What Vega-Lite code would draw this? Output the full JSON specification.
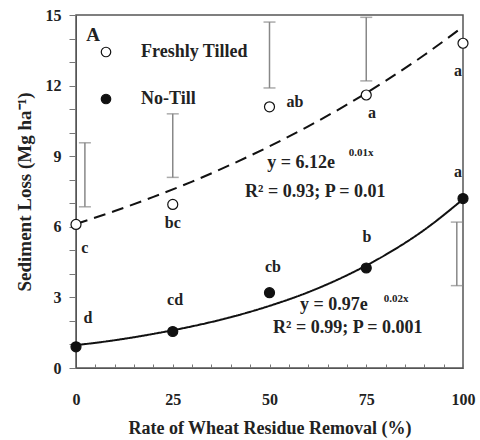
{
  "$schema": "https://vega.github.io/schema/vega-lite/v6.json",
  "width": 387,
  "height": 353,
  "autosize": {"type": "none"},
  "padding": {"left": 76, "top": 15, "right": 17, "bottom": 72},
  "background": "white",
  "config": {
    "font": "Liberation Serif",
    "view": {"stroke": "#555", "strokeWidth": 1.5},
    "axis": {"labelFont": "Liberation Serif", "titleFont": "Liberation Serif", "labelFontWeight": "bold", "titleFontWeight": "bold", "labelColor": "#222", "titleColor": "#222", "domainColor": "#555", "tickColor": "#777", "grid": false, "labelFontSize": 16, "titleFontSize": 18, "labelOverlap": false}
  },
  "datasets": {
    "pts": [
      {"x": 0, "y": 6.1, "s": "Freshly Tilled"},
      {"x": 25, "y": 6.95, "s": "Freshly Tilled"},
      {"x": 50, "y": 11.1, "s": "Freshly Tilled"},
      {"x": 75, "y": 11.6, "s": "Freshly Tilled"},
      {"x": 100, "y": 13.8, "s": "Freshly Tilled"},
      {"x": 0, "y": 0.9, "s": "No-Till"},
      {"x": 25, "y": 1.55, "s": "No-Till"},
      {"x": 50, "y": 3.2, "s": "No-Till"},
      {"x": 75, "y": 4.25, "s": "No-Till"},
      {"x": 100, "y": 7.2, "s": "No-Till"}
    ],
    "fit": [
      {"x": 0, "y": 6.12, "curve": "tilled"},
      {"x": 10, "y": 6.67, "curve": "tilled"},
      {"x": 20, "y": 7.27, "curve": "tilled"},
      {"x": 30, "y": 7.92, "curve": "tilled"},
      {"x": 40, "y": 8.64, "curve": "tilled"},
      {"x": 50, "y": 9.42, "curve": "tilled"},
      {"x": 60, "y": 10.27, "curve": "tilled"},
      {"x": 70, "y": 11.19, "curve": "tilled"},
      {"x": 80, "y": 12.2, "curve": "tilled"},
      {"x": 90, "y": 13.3, "curve": "tilled"},
      {"x": 100, "y": 14.5, "curve": "tilled"},
      {"x": 0, "y": 0.97, "curve": "notill"},
      {"x": 10, "y": 1.18, "curve": "notill"},
      {"x": 20, "y": 1.45, "curve": "notill"},
      {"x": 30, "y": 1.77, "curve": "notill"},
      {"x": 40, "y": 2.16, "curve": "notill"},
      {"x": 50, "y": 2.64, "curve": "notill"},
      {"x": 60, "y": 3.22, "curve": "notill"},
      {"x": 70, "y": 3.94, "curve": "notill"},
      {"x": 80, "y": 4.81, "curve": "notill"},
      {"x": 90, "y": 5.87, "curve": "notill"},
      {"x": 100, "y": 7.17, "curve": "notill"}
    ],
    "err": [
      {"x": 2.3, "lo": 6.85, "hi": 9.57},
      {"x": 25, "lo": 8.1, "hi": 10.8},
      {"x": 50, "lo": 11.9, "hi": 14.7},
      {"x": 75, "lo": 12.2, "hi": 14.9},
      {"x": 98.4, "lo": 3.5, "hi": 6.2}
    ],
    "letters": [
      {"x": 2.3, "y": 5.1, "t": "c"},
      {"x": 25, "y": 6.15, "t": "bc"},
      {"x": 56.6, "y": 11.3, "t": "ab"},
      {"x": 76.5, "y": 10.85, "t": "a"},
      {"x": 98.7, "y": 12.6, "t": "a"},
      {"x": 3.1, "y": 2.12, "t": "d"},
      {"x": 25.6, "y": 2.9, "t": "cd"},
      {"x": 50.9, "y": 4.3, "t": "cb"},
      {"x": 75.2, "y": 5.57, "t": "b"},
      {"x": 98.7, "y": 8.33, "t": "a"}
    ],
    "eq": [
      {"x": 49.4, "y": 8.71, "t": "y = 6.12e"},
      {"x": 43.7, "y": 7.48, "t": "R² = 0.93; P = 0.01"},
      {"x": 57.9, "y": 2.68, "t": "y = 0.97e"},
      {"x": 50.9, "y": 1.7, "t": "R² = 0.99; P = 0.001"}
    ],
    "panel": [
      {"x": 4.4, "y": 14.15, "t": "A"}
    ],
    "sup": [
      {"x": 70.5, "y": 9.15, "t": "0.01x"},
      {"x": 79.5, "y": 2.95, "t": "0.02x"}
    ]
  },
  "layer": [
    {
      "data": {"name": "err"},
      "mark": {"type": "rule", "color": "#888", "strokeWidth": 1.5},
      "encoding": {
        "x": {"field": "x", "type": "quantitative", "scale": {"domain": [0, 100], "nice": false},
          "axis": {"title": "Rate of Wheat Residue Removal (%)", "tickCount": 20, "labelExpr": "datum.value % 25 == 0 ? datum.label : ''", "labelOverlap": false, "tickSize": -4, "labelPadding": 27, "titlePadding": 12, "labelFlush": false}},
        "y": {"field": "lo", "type": "quantitative", "scale": {"domain": [0, 15], "nice": false},
          "axis": {"title": "Sediment Loss (Mg ha⁻¹)", "titleFontSize": 19, "tickCount": 15, "labelExpr": "datum.value % 3 == 0 ? datum.label : ''", "labelOverlap": false, "tickSize": 7, "labelPadding": 8, "titlePadding": 11, "labelFlush": false}},
        "y2": {"field": "hi"}
      }
    },
    {
      "data": {"name": "err"},
      "mark": {"type": "tick", "orient": "horizontal", "color": "#888", "thickness": 1.5, "size": 12},
      "encoding": {
        "x": {"field": "x", "type": "quantitative"},
        "y": {"field": "lo", "type": "quantitative"}
      }
    },
    {
      "data": {"name": "err"},
      "mark": {"type": "tick", "orient": "horizontal", "color": "#888", "thickness": 1.5, "size": 12},
      "encoding": {
        "x": {"field": "x", "type": "quantitative"},
        "y": {"field": "hi", "type": "quantitative"}
      }
    },
    {
      "data": {"name": "fit"},
      "mark": {"type": "line", "color": "#111", "strokeWidth": 2, "interpolate": "monotone"},
      "encoding": {
        "x": {"field": "x", "type": "quantitative"},
        "y": {"field": "y", "type": "quantitative"},
        "detail": {"field": "curve"},
        "strokeDash": {"field": "curve", "type": "nominal", "scale": {"domain": ["tilled", "notill"], "range": [[12, 7], [1, 0]]}, "legend": null}
      }
    },
    {
      "data": {"name": "pts"},
      "mark": {"type": "point", "shape": "circle", "size": 100, "stroke": "#111", "strokeWidth": 1.2, "opacity": 1},
      "encoding": {
        "x": {"field": "x", "type": "quantitative"},
        "y": {"field": "y", "type": "quantitative"},
        "fill": {"field": "s", "type": "nominal", "scale": {"domain": ["Freshly Tilled", "No-Till"], "range": ["white", "#111"]},
          "legend": {"title": null, "orient": "none", "legendX": 21, "legendY": 28, "padding": 0, "symbolType": "circle", "symbolSize": 90, "symbolStrokeColor": "#111", "symbolStrokeWidth": 1.2, "labelFont": "Liberation Serif", "labelFontWeight": "bold", "labelFontSize": 18, "labelColor": "#222", "labelOffset": 26, "rowPadding": 29}}
      }
    },
    {
      "data": {"name": "letters"},
      "mark": {"type": "text", "font": "Liberation Serif", "fontWeight": "bold", "fontSize": 16, "color": "#222"},
      "encoding": {
        "x": {"field": "x", "type": "quantitative"},
        "y": {"field": "y", "type": "quantitative"},
        "text": {"field": "t"}
      }
    },
    {
      "data": {"name": "eq"},
      "mark": {"type": "text", "font": "Liberation Serif", "fontWeight": "bold", "fontSize": 18, "color": "#222", "align": "left"},
      "encoding": {
        "x": {"field": "x", "type": "quantitative"},
        "y": {"field": "y", "type": "quantitative"},
        "text": {"field": "t"}
      }
    },
    {
      "data": {"name": "panel"},
      "mark": {"type": "text", "font": "Liberation Serif", "fontWeight": "bold", "fontSize": 19, "color": "#222"},
      "encoding": {
        "x": {"field": "x", "type": "quantitative"},
        "y": {"field": "y", "type": "quantitative"},
        "text": {"field": "t"}
      }
    },
    {
      "data": {"name": "sup"},
      "mark": {"type": "text", "font": "Liberation Serif", "fontWeight": "bold", "fontSize": 11, "color": "#222", "align": "left"},
      "encoding": {
        "x": {"field": "x", "type": "quantitative"},
        "y": {"field": "y", "type": "quantitative"},
        "text": {"field": "t"}
      }
    }
  ]
}
